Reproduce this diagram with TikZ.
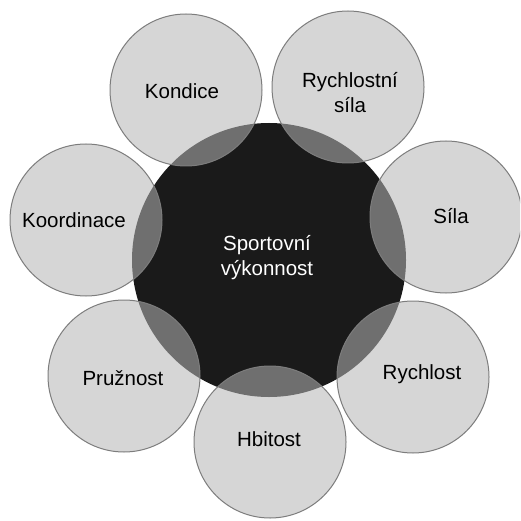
\documentclass[tikz,border=0pt]{standalone}
\usepackage{fontspec}
\setmainfont{Liberation Sans}
\definecolor{outerfill}{RGB}{181,181,181}
\definecolor{outerline}{RGB}{125,125,125}
\definecolor{corefill}{RGB}{26,26,26}
\tikzset{
  outer/.style={circle, inner sep=0pt, minimum size=152pt, fill=outerfill, fill opacity=0.55, draw=outerline, draw opacity=1, line width=1pt},
  core/.style={circle, inner sep=0pt, minimum size=274pt, fill=corefill},
  lbl/.style={font=\fontsize{20.5}{25}\selectfont, text=black, align=center, inner sep=0pt},
  corelbl/.style={lbl, text=white}
}
\begin{document}
\begin{tikzpicture}[x=1pt,y=-1pt]
\useasboundingbox (0,0) rectangle (520,521);
\clip (0,0) rectangle (520,521);
\fill[white] (0,0) rectangle (520,521);
\node[core] (core) at (269,260) {};
\node[outer] (kon) at (186,90) {};
\node[outer] (rs) at (348,87) {};
\node[outer] (sila) at (446,217) {};
\node[outer] (rych) at (413,377) {};
\node[outer] (hb) at (270,442) {};
\node[outer] (pr) at (124,376) {};
\node[outer] (koo) at (86,220) {};
\node[corelbl] (coreT) at (267,258) {Sportovní\\výkonnost};
\node[lbl] (konT) at (182,91) {Kondice};
\node[lbl] (rsT) at (350,93) {Rychlostní\\síla};
\node[lbl] (silaT) at (451,216) {Síla};
\node[lbl] (rychT) at (422,374) {Rychlost};
\node[lbl] (hbT) at (269,439) {Hbitost};
\node[lbl] (prT) at (123,378) {Pružnost};
\node[lbl] (kooT) at (74,220) {Koordinace};
\end{tikzpicture}
\end{document}
